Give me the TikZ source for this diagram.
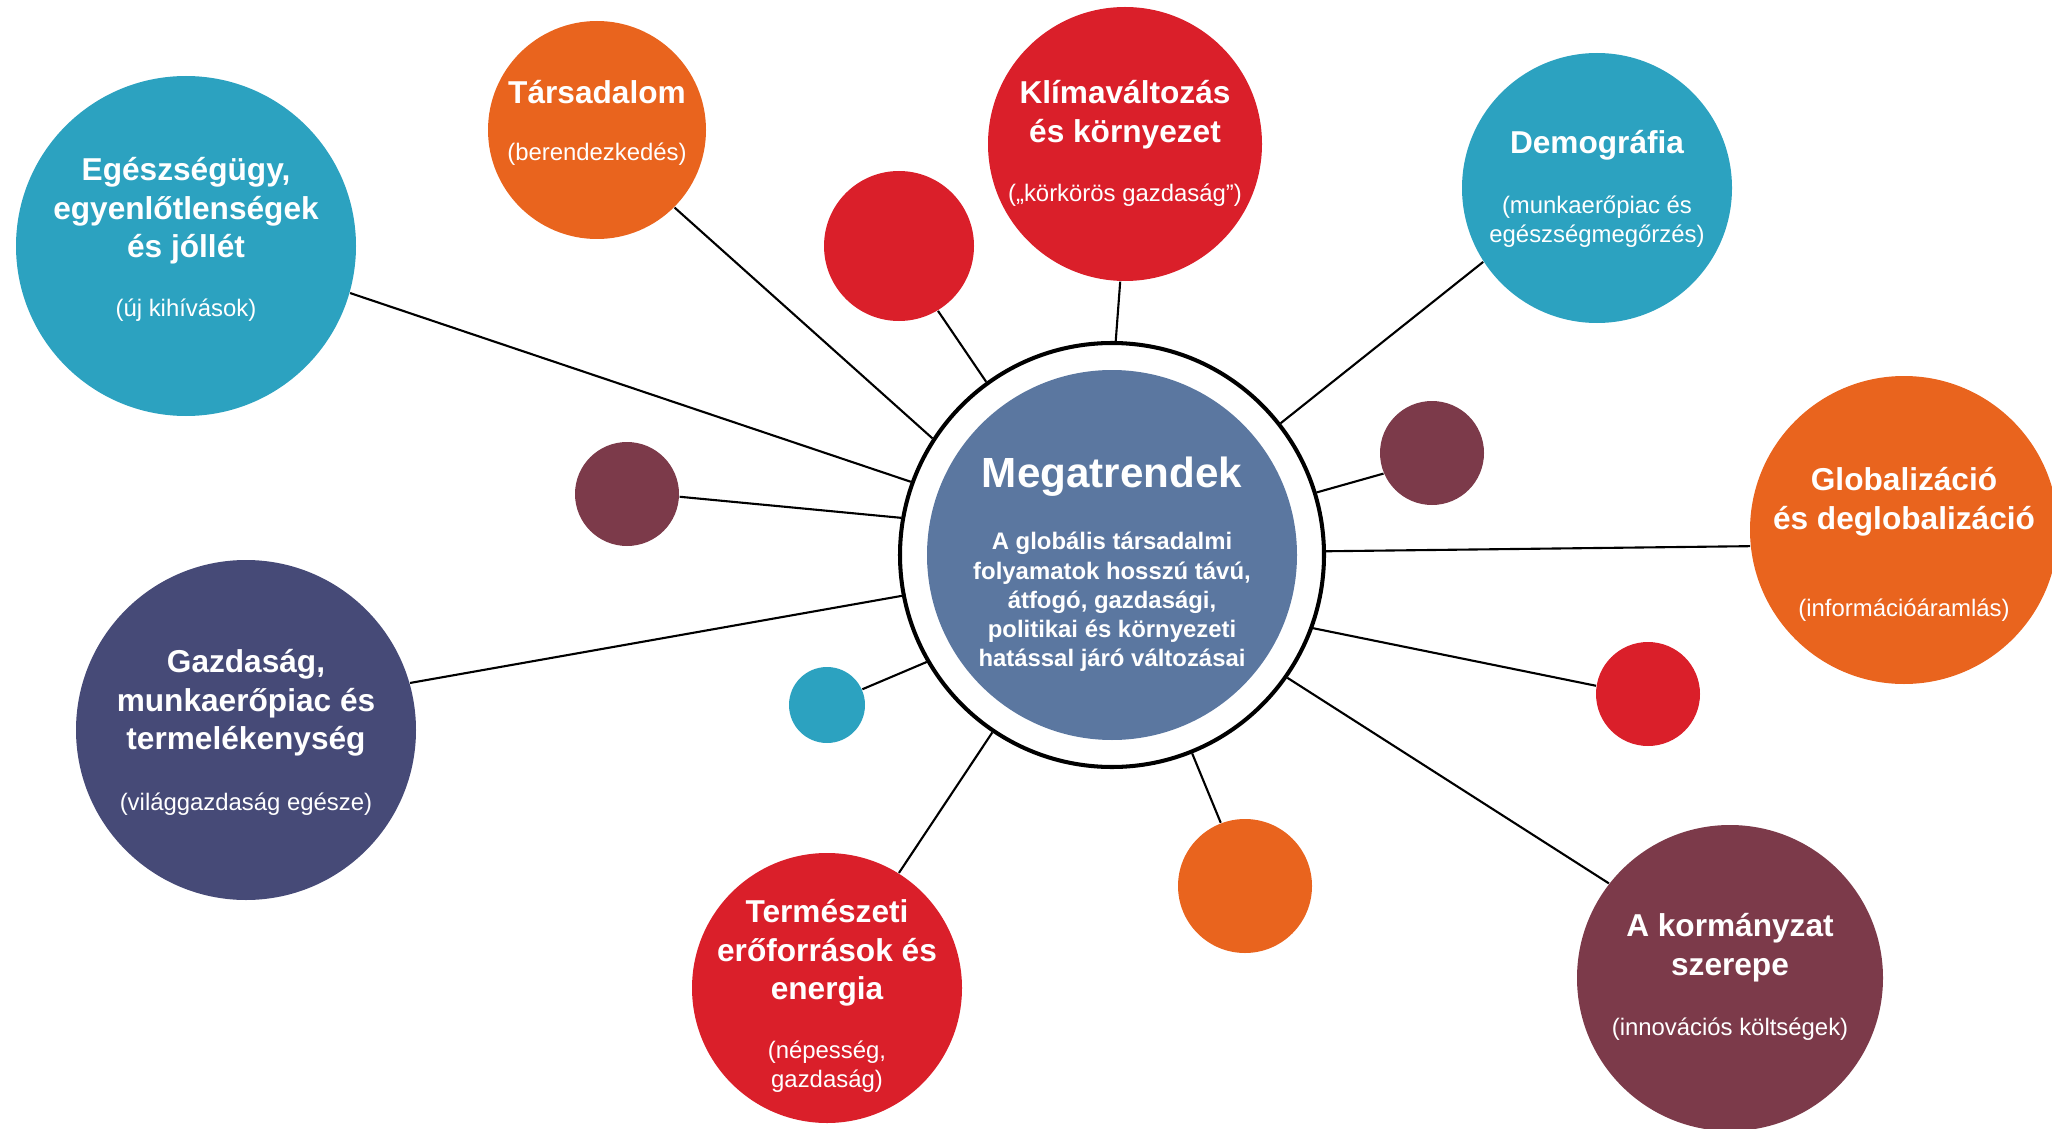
\documentclass[tikz,border=0pt]{standalone}
\usepackage{fontspec}
\setmainfont{Liberation Sans}
\usepackage{xcolor}
\definecolor{teal}{RGB}{44,162,192}
\definecolor{orange}{RGB}{233,100,30}
\definecolor{red}{RGB}{218,31,42}
\definecolor{maroon}{RGB}{124,58,74}
\definecolor{navy}{RGB}{70,74,119}
\definecolor{core}{RGB}{91,119,160}
\newcommand{\spoke}[4]{
  \draw[spoke] (#1.#2) -- (#3.#4);
}
\tikzstyle{bubble}=[circle, inner sep=0pt, draw=none]
\tikzstyle{topic}=[text=white, align=center, font=\bfseries\fontsize{9}{11}\selectfont]
\tikzstyle{hint}=[text=white, align=center, font=\fontsize{6.8}{8.2}\selectfont]
\tikzset{spoke/.style={line width=.6pt, color=black}}
\tikzset{y=-1cm}
\tikzset{x=1cm}

\begin{document}
\begin{tikzpicture}
  \useasboundingbox (0,0) rectangle (20.52,11.29);
  %% Centre
  \draw (11.12,5.55) node[bubble,draw=black,line width=1.15pt,minimum size=4.24cm] (Core) {};
  \draw (11.12,5.55) node[bubble,fill=core,minimum size=3.70cm] (CoreFill) {};
  \draw (11.12,4.77) node[text=white,font=\bfseries\fontsize{12}{14}\selectfont] (CoreT) {Megatrendek};
  \draw (11.12,6.02) node[text=white,align=center,font=\bfseries\fontsize{6.8}{8.3}\selectfont] (CoreS)
    {A globális társadalmi\\folyamatok hosszú távú,\\átfogó, gazdasági,\\politikai és környezeti\\hatással járó változásai};

  %% Topics
  \draw (1.86,2.46) node[bubble,fill=teal,minimum size=3.40cm] (Health) {};
  \draw (1.86,2.11) node[topic] (HealthT) {Egészségügy,\\egyenlőtlenségek\\és jóllét};
  \draw (1.86,3.10) node[hint] (HealthS) {(új kihívások)};

  \draw (5.97,1.30) node[bubble,fill=orange,minimum size=2.18cm] (Society) {};
  \draw (5.97,0.92) node[topic] (SocietyT) {Társadalom};
  \draw (5.97,1.54) node[hint] (SocietyS) {(berendezkedés)};

  \draw (11.25,1.44) node[bubble,fill=red,minimum size=2.74cm] (Climate) {};
  \draw (11.25,1.15) node[topic] (ClimateT) {Klímaváltozás\\és környezet};
  \draw (11.25,1.95) node[hint] (ClimateS) {(„körkörös gazdaság”)};

  \draw (15.97,1.88) node[bubble,fill=teal,minimum size=2.70cm] (Demography) {};
  \draw (15.97,1.45) node[topic] (DemographyT) {Demográfia};
  \draw (15.97,2.22) node[hint] (DemographyS) {(munkaerőpiac és\\egészségmegőrzés)};

  \draw (19.04,5.30) node[bubble,fill=orange,minimum size=3.08cm] (Global) {};
  \draw (19.04,5.02) node[topic] (GlobalT) {Globalizáció\\és deglobalizáció};
  \draw (19.04,6.10) node[hint] (GlobalS) {(információáramlás)};

  \draw (17.30,9.78) node[bubble,fill=maroon,minimum size=3.06cm] (Government) {};
  \draw (17.30,9.48) node[topic] (GovernmentT) {A kormányzat\\szerepe};
  \draw (17.30,10.29) node[hint] (GovernmentS) {(innovációs költségek)};

  \draw (8.27,9.88) node[bubble,fill=red,minimum size=2.70cm] (Nature) {};
  \draw (8.27,9.53) node[topic] (NatureT) {Természeti\\erőforrások és\\energia};
  \draw (8.27,10.67) node[hint] (NatureS) {(népesség,\\gazdaság)};

  \draw (2.46,7.30) node[bubble,fill=navy,minimum size=3.40cm] (Economy) {};
  \draw (2.46,7.03) node[topic] (EconomyT) {Gazdaság,\\munkaerőpiac és\\termelékenység};
  \draw (2.46,8.04) node[hint] (EconomyS) {(világgazdaság egésze)};

  %% Small dots
  \draw (8.99,2.46) node[bubble,fill=red,minimum size=1.50cm] (DotNW) {};
  \draw (6.27,4.94) node[bubble,fill=maroon,minimum size=1.04cm] (DotW) {};
  \draw (8.27,7.05) node[bubble,fill=teal,minimum size=0.76cm] (DotSW) {};
  \draw (12.45,8.86) node[bubble,fill=orange,minimum size=1.34cm] (DotS) {};
  \draw (14.32,4.53) node[bubble,fill=maroon,minimum size=1.04cm] (DotE) {};
  \draw (16.48,6.94) node[bubble,fill=red,minimum size=1.04cm] (DotSE) {};

  %% Spokes
  \spoke{Health}{-16}{Core}{160}
  \spoke{Society}{-45}{Core}{147}
  \spoke{DotNW}{-59}{Core}{126}
  \spoke{Climate}{-92}{Core}{89}
  \spoke{Demography}{213}{Core}{38}
  \spoke{DotE}{203}{Core}{17}
  \spoke{Global}{186}{Core}{1}
  \spoke{DotSE}{171}{Core}{-20}
  \spoke{Government}{142}{Core}{-35}
  \spoke{DotS}{111}{Core}{-68}
  \spoke{Nature}{58}{Core}{-124}
  \spoke{DotSW}{24}{Core}{210}
  \spoke{Economy}{16}{Core}{191}
  \spoke{DotW}{-3}{Core}{170}
\end{tikzpicture}
\end{document}
